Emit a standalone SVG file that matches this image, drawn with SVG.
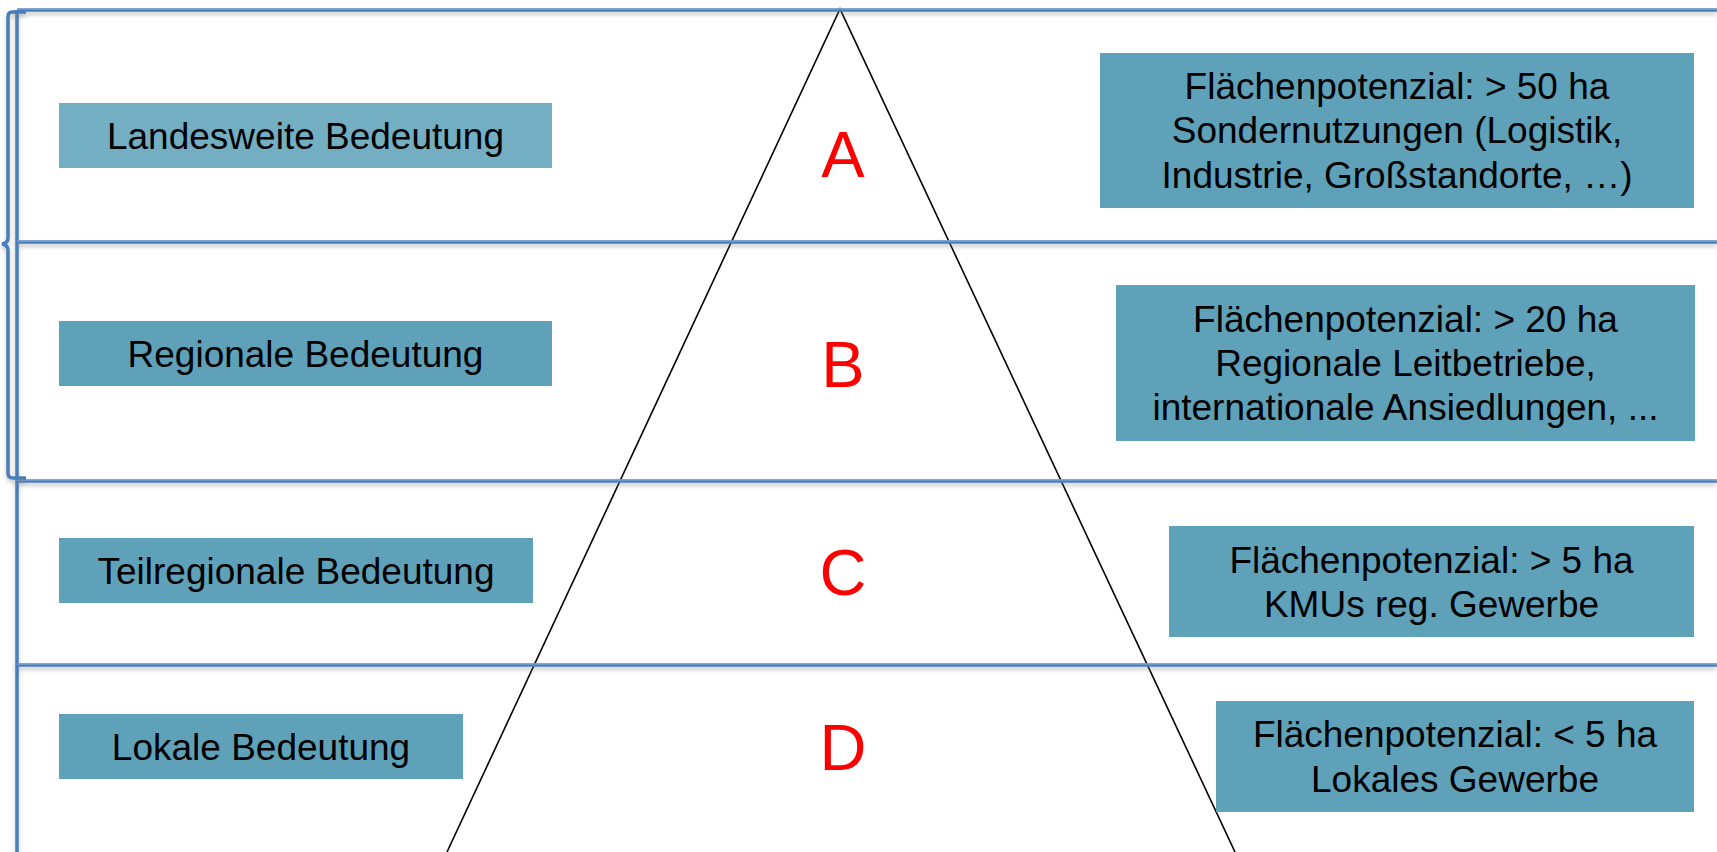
<svg xmlns="http://www.w3.org/2000/svg" width="1717" height="852" viewBox="0 0 1717 852">
<style>
.band{stroke:#4A7EBB;stroke-width:3.5;fill:none;filter:url(#sh)}
.hl{stroke:#8FB0DD;stroke-width:1;fill:none}
.box{fill:#5EA1B9}
.boxl{fill:#73AEC2}
.t{font-family:"Liberation Sans",Arial,sans-serif;font-size:37px;fill:#000;text-anchor:middle}
.lt{font-family:"Liberation Sans",Arial,sans-serif;font-size:65px;fill:#FF0000;text-anchor:middle}
.tri{stroke:#000;stroke-width:1.6;fill:none}
</style>
<defs>
<filter id="sh" filterUnits="userSpaceOnUse" x="-10" y="-10" width="1740" height="880">
<feDropShadow dx="0" dy="3" stdDeviation="2" flood-color="#808080" flood-opacity="0.45"/>
</filter>
</defs>
<rect x="0" y="0" width="1717" height="852" fill="#FFFFFF"/>
<g id="pyramid">
<polyline class="tri" points="447,852 840,9 1235,852"/>
</g>
<g id="connectors">
<line class="band" x1="17" y1="10" x2="1717" y2="10"/>
<line class="band" x1="17" y1="242" x2="1717" y2="242"/>
<line class="band" x1="17" y1="481" x2="1717" y2="481"/>
<line class="band" x1="17" y1="665" x2="1717" y2="665"/>
<line class="band" x1="17" y1="10" x2="17" y2="852"/>
<line class="hl" x1="17" y1="9" x2="1717" y2="9"/>
<line class="hl" x1="17" y1="241" x2="1717" y2="241"/>
<line class="hl" x1="17" y1="480" x2="1717" y2="480"/>
<line class="hl" x1="17" y1="664" x2="1717" y2="664"/>
<path class="band" d="M26,12 L12,12 Q8,12 8,17 L8,238 Q8,243 2,244 Q8,245 8,250 L8,473 Q8,478 13,478 L26,478"/>
</g>
<g id="node-landesweit">
<rect class="boxl" x="59" y="103" width="493" height="65"/>
<text class="t" x="305.5" y="149">Landesweite Bedeutung</text>
</g>
<g id="node-regional">
<rect class="box" x="59" y="321" width="493" height="65"/>
<text class="t" x="305.5" y="367">Regionale Bedeutung</text>
</g>
<g id="node-teilregional">
<rect class="box" x="59" y="538" width="474" height="65"/>
<text class="t" x="296" y="584">Teilregionale Bedeutung</text>
</g>
<g id="node-lokal">
<rect class="box" x="59" y="714" width="404" height="65"/>
<text class="t" x="261" y="760">Lokale Bedeutung</text>
</g>
<g id="node-a-info">
<rect class="box" x="1100" y="53" width="594" height="155"/>
<text class="t" x="1397" y="99">Flächenpotenzial: &gt; 50 ha</text>
<text class="t" x="1397" y="143">Sondernutzungen (Logistik,</text>
<text class="t" x="1397" y="188">Industrie, Großstandorte, …)</text>
</g>
<g id="node-b-info">
<rect class="box" x="1116" y="285" width="579" height="156"/>
<text class="t" x="1405.5" y="332">Flächenpotenzial: &gt; 20 ha</text>
<text class="t" x="1405.5" y="376">Regionale Leitbetriebe,</text>
<text class="t" x="1405.5" y="420">internationale Ansiedlungen, ...</text>
</g>
<g id="node-c-info">
<rect class="box" x="1169" y="526" width="525" height="111"/>
<text class="t" x="1431.5" y="573">Flächenpotenzial: &gt; 5 ha</text>
<text class="t" x="1431.5" y="617">KMUs reg. Gewerbe</text>
</g>
<g id="node-d-info">
<rect class="box" x="1216" y="701" width="478" height="111"/>
<text class="t" x="1455" y="747">Flächenpotenzial: &lt; 5 ha</text>
<text class="t" x="1455" y="792">Lokales Gewerbe</text>
</g>
<g id="node-letters">
<text class="lt" x="843" y="177">A</text>
<text class="lt" x="843" y="387">B</text>
<text class="lt" x="843" y="595">C</text>
<text class="lt" x="843" y="770">D</text>
</g>
</svg>
